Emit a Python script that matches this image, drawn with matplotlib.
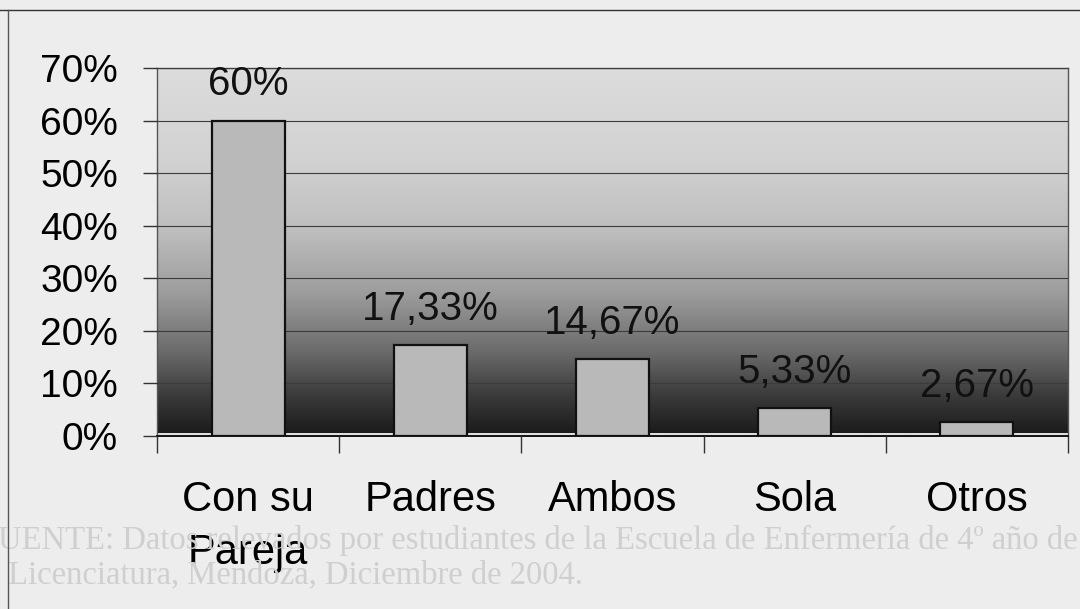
import numpy as np
import matplotlib
matplotlib.use('Agg')
import matplotlib.pyplot as plt
from matplotlib.colors import LinearSegmentedColormap
from matplotlib.ticker import PercentFormatter, FixedLocator
from matplotlib.lines import Line2D

# datos: con quién vive la estudiante
categorias = ['Con su\nPareja', 'Padres', 'Ambos', 'Sola', 'Otros']
porcentajes = [60, 17.33, 14.67, 5.33, 2.67]
ticks_y = [0, 10, 20, 30, 40, 50, 60, 70]

plt.rcParams['font.family'] = ['Liberation Sans', 'DejaVu Sans']

fig = plt.figure(figsize=(10.8, 6.09), dpi=100, facecolor='#ededed')

# texto de la fuente, apenas visible detras del grafico
fig.text(1078 / 1080, 1 - 540 / 609,
         'FUENTE: Datos relevados por estudiantes de la Escuela de Enfermería de 4º año de',
         ha='right', va='center', fontsize=23.5, color='#cfcfcf',
         family=['Liberation Serif', 'DejaVu Serif'], zorder=0)
fig.text(8 / 1080, 1 - 575 / 609, 'Licenciatura, Mendoza, Diciembre de 2004.',
         ha='left', va='center', fontsize=23.5, color='#cfcfcf',
         family=['Liberation Serif', 'DejaVu Serif'], zorder=0)

ax = fig.add_axes([157 / 1080, 1 - 436 / 609, 911 / 1080, 368 / 609])
ax.set_facecolor('#dedede')

# fondo degradado del area de trazado (claro arriba, casi negro abajo)
fondo = LinearSegmentedColormap.from_list('fondo', [
    (0.00, '#1c1c1c'), (0.10, '#3a3a3a'), (0.22, '#6a6a6a'),
    (0.38, '#9c9c9c'), (0.55, '#bdbdbd'), (0.75, '#d2d2d2'), (1.00, '#dcdcdc')])
grad = np.linspace(0, 1, 256).reshape(-1, 1)
ax.imshow(grad, cmap=fondo, origin='lower', aspect='auto',
          extent=(-0.5, 4.5, 0.6, 70), zorder=0)

x = np.arange(len(categorias))
ax.bar(x, porcentajes, width=0.4, color='#b9b9b9', edgecolor='#111111',
       linewidth=1.6, zorder=3)

for xi, v in zip(x, porcentajes):
    txt = f'{v:g}'.replace('.', ',') + '%'
    ax.annotate(txt, (xi, v), xytext=(0, 26), textcoords='offset points',
                ha='center', va='center', fontsize=29, color='#111111', zorder=4)

ax.set_xlim(-0.5, 4.5)
ax.set_ylim(0, 70)
ax.set_yticks(ticks_y)
ax.yaxis.set_major_formatter(PercentFormatter(decimals=0))
ax.grid(axis='y', color='#3c3c3c', linewidth=0.8, zorder=1)
ax.set_axisbelow(False)

ax.set_xticks(x)
ax.set_xticklabels(categorias, fontsize=30, linespacing=1.4)
ax.xaxis.set_minor_locator(FixedLocator(np.arange(-0.5, 4.6, 1)))
ax.tick_params(axis='x', which='major', length=0, pad=32)
ax.tick_params(axis='x', which='minor', length=12, width=1, color='#333333')
ax.tick_params(axis='y', length=10, width=1, color='#333333', pad=18,
               labelsize=28)

for lado in ['left', 'top', 'right']:
    ax.spines[lado].set_color('#555555')
    ax.spines[lado].set_linewidth(1)
ax.spines['bottom'].set_color('#111111')
ax.spines['bottom'].set_linewidth(1.4)

# marco de la hoja
fig.add_artist(Line2D([0, 1], [1 - 10 / 609, 1 - 10 / 609], color='#333333', lw=1))
fig.add_artist(Line2D([8 / 1080, 8 / 1080], [0, 1 - 10 / 609], color='#555555', lw=1))

fig.savefig('out.png', dpi=100, facecolor=fig.get_facecolor())
